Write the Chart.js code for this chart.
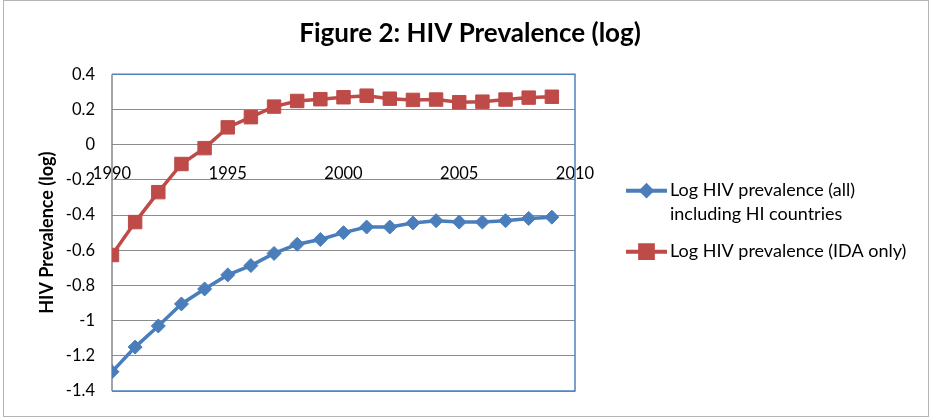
<!DOCTYPE html>
<html>
<head>
<meta charset="utf-8">
<script src="https://cdn.jsdelivr.net/npm/chart.js@4.4.1/dist/chart.umd.min.js"></script>
<style>
  html, body { margin: 0; padding: 0; background: #fff; }
  #wrap { width: 940px; height: 418px; position: relative; }
</style>
</head>
<body>
<div id="wrap"><canvas id="hivChart"></canvas></div>
<script>
// values
const years = [1990, 1991, 1992, 1993, 1994, 1995, 1996, 1997, 1998, 1999,
               2000, 2001, 2002, 2003, 2004, 2005, 2006, 2007, 2008, 2009];
const logAll = [-1.29, -1.15, -1.03, -0.905, -0.82, -0.74, -0.687, -0.618, -0.566, -0.539,
                -0.50, -0.468, -0.468, -0.445, -0.432, -0.44, -0.44, -0.432, -0.419, -0.412];
const logIda = [-0.627, -0.44, -0.27, -0.11, -0.02, 0.098, 0.156, 0.216, 0.248, 0.258,
                0.269, 0.278, 0.261, 0.254, 0.256, 0.241, 0.244, 0.256, 0.267, 0.272];
const labelAll = ['Log HIV prevalence (all)', 'including HI countries'];
const labelIda = ['Log HIV prevalence (IDA only)'];
const yMin = -1.4, yMax = 0.4, yStep = 0.2;
const xMin = 1990, xMax = 2010, xStep = 5;

const FONT = 'Lato, "Open Sans", sans-serif';
const BLUE = '#4a7ebb';
const RED = '#be4b48';

function toPoints(vals) {
    return years.map((yr, i) => ({x: yr, y: vals[i]}));
}

// outer frame + blue plot border (left side is the grey value axis)
const framePlugin = {
    id: 'frame',
    beforeDraw(chart) {
        const c = chart.ctx;
        c.save();
        c.fillStyle = '#fff';
        c.fillRect(0, 0, chart.width, chart.height);
        c.strokeStyle = '#b4b4b4';
        c.lineWidth = 1;
        c.strokeRect(3.5, 0.5, 925, 416);
        c.restore();
    },
    beforeDatasetsDraw(chart) {
        const a = chart.chartArea;
        const c = chart.ctx;
        c.save();
        c.strokeStyle = '#4f81bd';
        c.lineWidth = 1.5;
        c.beginPath();
        c.moveTo(a.left, a.top);
        c.lineTo(a.right, a.top);
        c.lineTo(a.right, a.bottom);
        c.lineTo(a.left, a.bottom);
        c.stroke();
        c.strokeStyle = '#868686';
        c.beginPath();
        c.moveTo(a.left, a.top);
        c.lineTo(a.left, a.bottom);
        c.stroke();
        c.restore();
    }
};

// legend at the right, line + marker like Excel
const sideLegend = {
    id: 'sideLegend',
    afterDraw(chart) {
        const c = chart.ctx;
        const a = chart.chartArea;
        const x0 = a.right + 51;
        const lineH = 24;
        const mid = (a.top + a.bottom) / 2;
        let y = mid - 42;
        c.save();
        c.font = '18px ' + FONT;
        c.textBaseline = 'middle';
        chart.data.datasets.forEach((ds, i) => {
            c.strokeStyle = ds.borderColor;
            c.lineWidth = 4;
            c.beginPath();
            c.moveTo(x0, y);
            c.lineTo(x0 + 41, y);
            c.stroke();
            c.fillStyle = ds.pointBackgroundColor;
            c.strokeStyle = ds.pointBorderColor;
            Chart.helpers.drawPoint(c, {
                pointStyle: ds.pointStyle,
                radius: ds.legendRadius,
                borderWidth: 1,
                rotation: 0
            }, x0 + 20.5, y);
            c.fillStyle = '#000';
            const lines = ds.legendLines;
            lines.forEach((t, k) => c.fillText(t, x0 + 44, y + k * lineH));
            y += lines.length * lineH + 13;
        });
        c.restore();
    }
};

const ctx = document.getElementById('hivChart').getContext('2d');
const myChart = new Chart(ctx, {
    type: 'line',
    data: {
        datasets: [{
            label: labelAll.join(' '),
            legendLines: labelAll,
            legendRadius: 5,
            data: toPoints(logAll),
            borderColor: BLUE,
            backgroundColor: BLUE,
            pointBackgroundColor: BLUE,
            pointBorderColor: BLUE,
            pointStyle: 'rectRot',
            pointRadius: 7,
            pointBorderWidth: 1,
            borderWidth: 3.5,
            tension: 0
        }, {
            label: labelIda.join(' '),
            legendLines: labelIda,
            legendRadius: 9,
            data: toPoints(logIda),
            borderColor: RED,
            backgroundColor: RED,
            pointBackgroundColor: RED,
            pointBorderColor: RED,
            pointStyle: 'rect',
            pointRadius: 9.5,
            pointBorderWidth: 1,
            borderWidth: 3.5,
            tension: 0
        }]
    },
    options: {
        responsive: true,
        maintainAspectRatio: false,
        animation: false,
        layout: {
            padding: {left: 0, right: 0, top: 0, bottom: 24}
        },
        plugins: {
            legend: {display: false},
            tooltip: {enabled: false},
            title: {
                display: true,
                text: 'Figure 2: HIV Prevalence (log)',
                font: {family: FONT, size: 26, weight: 'bold'},
                color: '#000',
                padding: {top: 18, bottom: 25}
            }
        },
        scales: {
            x: {
                type: 'linear',
                min: xMin,
                max: xMax,
                position: {y: 0},
                grid: {display: false},
                border: {display: false},
                ticks: {
                    stepSize: xStep,
                    color: '#000',
                    font: {family: FONT, size: 16.5},
                    padding: 11,
                    maxRotation: 0,
                    callback: v => String(v)
                }
            },
            y: {
                min: yMin,
                max: yMax,
                grid: {color: '#8c8c8c', lineWidth: 1, drawTicks: false},
                border: {display: false},
                ticks: {
                    stepSize: yStep,
                    color: '#000',
                    font: {family: FONT, size: 16.5},
                    padding: 17,
                    callback: v => String(+v.toFixed(1))
                },
                title: {
                    display: true,
                    text: 'HIV Prevalence (log)',
                    color: '#000',
                    font: {family: FONT, size: 18, weight: 'bold'},
                    padding: {top: 36, bottom: 0}
                },
                afterFit(scale) { scale.width = 112; }
            },
            // empty box on the right that keeps room for the legend
            legendRoom: {
                type: 'linear',
                position: 'right',
                grid: {display: false},
                border: {display: false},
                ticks: {display: false},
                afterFit(scale) { scale.width = 365; }
            }
        }
    },
    plugins: [framePlugin, sideLegend]
});
</script>
</body>
</html>
